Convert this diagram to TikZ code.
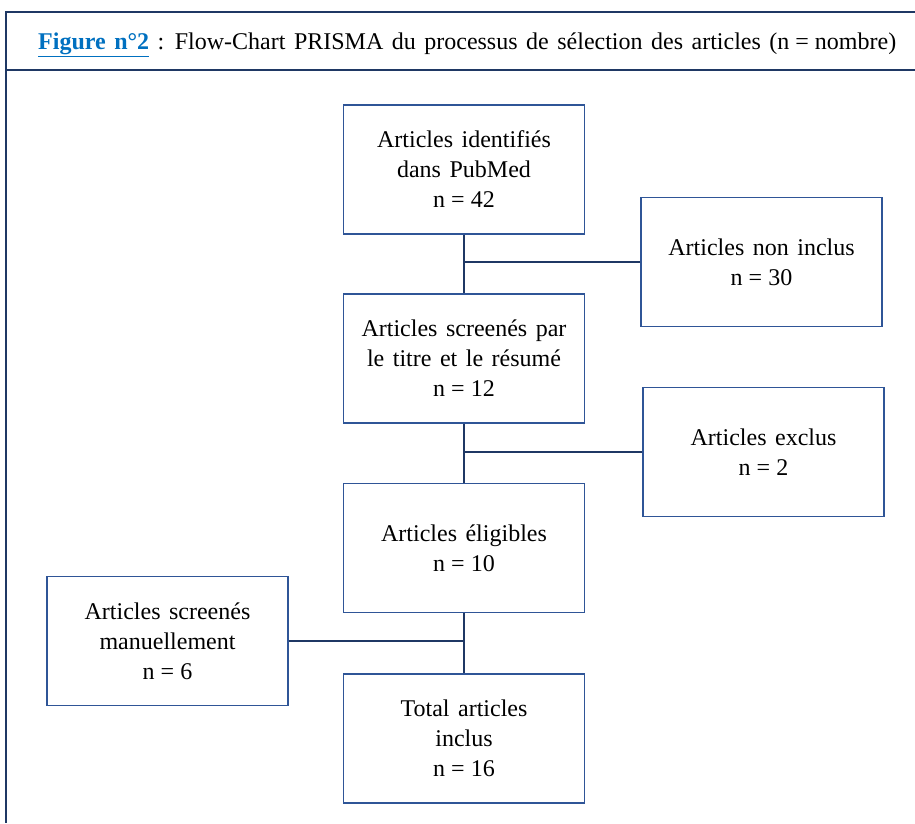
\documentclass[tikz,border=0pt]{standalone}
\usepackage{fontspec}
\setmainfont{Liberation Serif}
\definecolor{boxblue}{HTML}{2F5597}
\definecolor{linenavy}{HTML}{1F3864}
\definecolor{figblue}{HTML}{0070C0}
\newcommand{\textefig}{\fontsize{24}{30}\selectfont\setlength{\spaceskip}{8.5pt}}
\newcommand{\egal}{\hspace{6pt}=\hspace{6pt}}
\tikzset{
	etape/.style={draw=boxblue, line width=1.4pt, minimum width=241pt,
		minimum height=129pt, align=center, inner sep=0pt},
	lien/.style={draw=linenavy, line width=1.8pt},
	cadre/.style={draw=linenavy, line width=1.4pt}
}

\begin{document}
\begin{tikzpicture}[x=1pt,y=-1pt,font=\textefig]
	\useasboundingbox (0,0) rectangle (915,823);
	\draw[cadre] (915,12) -- (6,12) -- (6,823);
	\draw[cadre] (6,70) -- (915,70);
	\node[anchor=base west,inner sep=0pt] (titre) at (38,49)
		{\textcolor{figblue}{\underline{\textbf{Figure n°2}}} : Flow-Chart PRISMA du processus de sélection des articles (n\egal nombre)};
	\node[etape] (ident) at (464,169.5) {Articles identifiés\\dans PubMed\\n\egal 42};
	\node[etape] (noninc) at (761.5,262) {Articles non inclus\\n\egal 30};
	\node[etape] (screen) at (464,358.5) {Articles screenés par\\le titre et le résumé\\n\egal 12};
	\node[etape] (exclus) at (763.5,452) {Articles exclus\\n\egal 2};
	\node[etape] (eligib) at (464,548) {Articles éligibles\\n\egal 10};
	\node[etape] (manuel) at (167.5,641) {Articles screenés\\manuellement\\n\egal 6};
	\node[etape] (total) at (464,738.5) {Total articles\\inclus\\n\egal 16};
	\draw[lien] (ident) -- (screen);
	\draw[lien] (noninc.west) -- (noninc.west -| ident.south);
	\draw[lien] (screen) -- (eligib);
	\draw[lien] (exclus.west) -- (exclus.west -| screen.south);
	\draw[lien] (eligib) -- (total);
	\draw[lien] (manuel.east) -- (manuel.east -| eligib.south);
\end{tikzpicture}
\end{document}
